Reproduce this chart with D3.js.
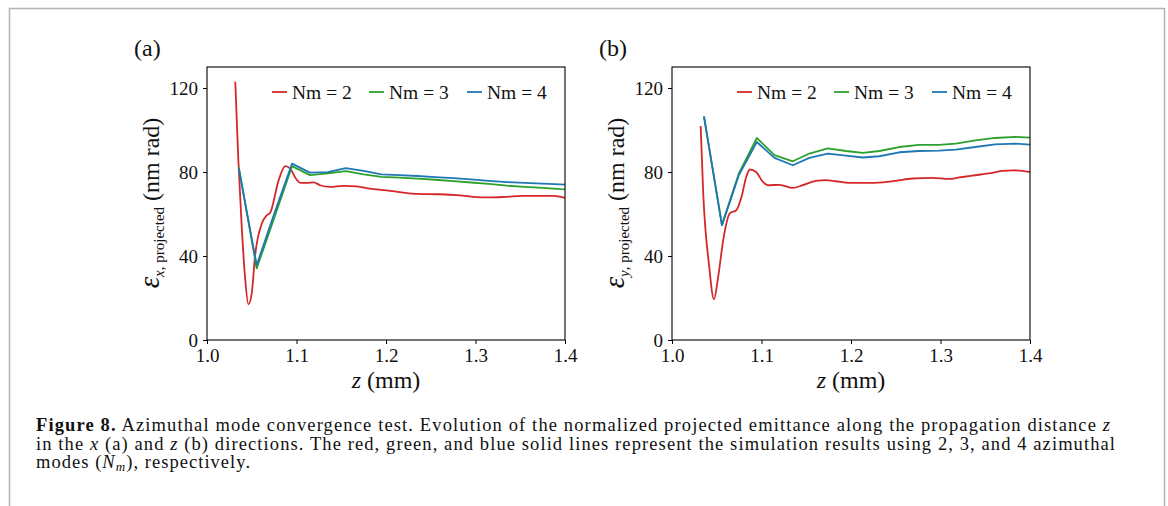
<!DOCTYPE html>
<html><head><meta charset="utf-8">
<script src="https://cdn.jsdelivr.net/npm/d3@7"></script>
<style>
html,body{margin:0;padding:0;background:#fff;}
svg{display:block;}
text{font-family:"Liberation Serif","Times New Roman",serif;fill:#111;}
</style></head>
<body>
<svg id="fig" width="1168" height="506"></svg>
<script>
// ---------- data ----------
const xTicks = [1.0, 1.1, 1.2, 1.3, 1.4];
const yTicks = [0, 40, 80, 120];
const seriesNames = ["Nm = 2", "Nm = 3", "Nm = 4"];
const seriesColors = ["#d62728", "#2ca02c", "#1f77b4"];

// panel (a): x direction
const zRedA = [1.0316,1.035,1.0388,1.0425,1.0462,1.050,1.0536,1.0613,1.0669,1.0706,1.080,1.0874,1.093,1.0993,1.1048,1.1115,1.119,1.1264,1.1375,1.152,1.167,1.182,1.2007,1.2193,1.234,1.260,1.279,1.2974,1.316,1.3346,1.353,1.3717,1.3866,1.4];
const redA  = [123,85.7,54,30,17,22.2,39.7,55.5,59.4,60.6,76,82.8,81.6,76.9,74.8,74.8,75.1,73.7,72.9,73.4,73.2,72.1,71.3,70.2,69.6,69.4,69,68.2,67.9,68.2,68.6,68.6,68.6,67.7];
const zGridA = [1.0355,1.0555,1.075,1.095,1.115,1.135,1.155,1.175,1.195,1.215,1.235,1.255,1.275,1.295,1.315,1.335,1.355,1.375,1.395,1.4];
const greenA = [82.4,34.1,58,82.8,78.5,79.3,80.4,78.9,77.7,77.3,76.8,76.3,75.7,75.0,74.3,73.5,72.9,72.4,71.8,71.7];
const blueA  = [81.6,35.7,60,84,79.7,79.9,81.8,80.5,78.9,78.5,78.1,77.6,77.1,76.5,75.8,75.2,74.8,74.5,74.1,74];

// panel (b): y direction
const zRedB = [1.032,1.0349,1.0416,1.0468,1.0516,1.0572,1.0646,1.072,1.0777,1.083,1.087,1.094,1.1015,1.107,1.120,1.135,1.146,1.161,1.172,1.183,1.198,1.2167,1.2353,1.250,1.2688,1.291,1.3097,1.321,1.3357,1.354,1.369,1.380,1.3918,1.4];
const redB  = [101.9,69.8,34.9,19.4,30.1,47.6,60.3,61.9,68.2,77.7,81.2,80,75.3,73.7,73.9,72.4,73.7,75.8,76.1,75.6,74.8,74.8,75.1,75.8,76.9,77.2,76.7,77.4,78.3,79.3,80.5,80.8,80.5,79.9];
const zGridB = [1.0357,1.0558,1.0747,1.0948,1.1145,1.135,1.1535,1.174,1.1944,1.213,1.2316,1.2539,1.276,1.2985,1.317,1.339,1.361,1.3836,1.4];
const greenB = [106.5,54.7,79.3,96.2,88,85.1,88.8,91.2,90,89.1,90,91.9,92.9,92.9,93.5,95.1,96.2,96.7,96.4];
const blueB  = [106.5,54.7,78.5,94.3,86.7,83.2,86.7,88.8,87.8,86.9,87.5,89.4,90,90.2,90.7,91.9,93.2,93.5,93];

const panels = [
  {label:"(a)", subVar:"x", left:207,
   series:[{z:zRedA,v:redA,smooth:true},{z:zGridA,v:greenA},{z:zGridA,v:blueA}]},
  {label:"(b)", subVar:"y", left:672,
   series:[{z:zRedB,v:redB,smooth:true},{z:zGridB,v:greenB},{z:zGridB,v:blueB}]}
];

// ---------- drawing ----------
const svg = d3.select("#fig");
svg.append("rect").attr("width",1168).attr("height",506).attr("fill","#fff");
// outer frame (page box)
svg.append("path").attr("d","M9.5,506 V8.5 H1164.5 V506")
  .attr("fill","none").attr("stroke","#b4b4b4").attr("stroke-width",1.5);

const PW = 358, PTOP = 67, PH = 273;
panels.forEach(p => {
  const g = svg.append("g").attr("transform",`translate(${p.left},${PTOP})`);
  const x = d3.scaleLinear().domain([1.0,1.4]).range([0,PW]);
  const y = d3.scaleLinear().domain([0,130]).range([PH,0]);

  const xa = g.append("g").attr("transform",`translate(0,${PH})`)
    .call(d3.axisBottom(x).tickValues(xTicks).tickFormat(d3.format(".1f")).tickSize(4).tickPadding(5));
  const ya = g.append("g")
    .call(d3.axisLeft(y).tickValues(yTicks).tickFormat(d3.format("d")).tickSize(4).tickPadding(5));
  [xa,ya].forEach(a=>{
    a.attr("font-family",null);
    a.select(".domain").remove();
    a.selectAll(".tick line").attr("stroke","#000").attr("stroke-width",1);
    a.selectAll(".tick text").style("font-family",'"Liberation Serif",serif').style("font-size","19px").attr("fill","#111");
  });

  const lines = g.append("g");
  p.series.forEach((s,i) => {
    const pts = s.z.map((z,k)=>[z,s.v[k]]);
    const gen = d3.line().x(d=>x(d[0])).y(d=>y(d[1]))
      .curve(s.smooth ? d3.curveMonotoneX : d3.curveLinear);
    lines.append("path").datum(pts).attr("d",gen)
      .attr("fill","none").attr("stroke",seriesColors[i]).attr("stroke-width",1.8)
      .attr("stroke-linejoin","round");
  });

  // frame
  g.append("rect").attr("x",0).attr("y",0).attr("width",PW).attr("height",PH)
    .attr("fill","none").attr("stroke","#000").attr("stroke-width",1.1);

  // legend
  const legX = [65, 162, 260];
  seriesNames.forEach((n,i)=>{
    const lg = g.append("g").attr("transform",`translate(${legX[i]},${25})`);
    lg.append("line").attr("x1",0).attr("x2",15).attr("y1",0).attr("y2",0)
      .attr("stroke",seriesColors[i]).attr("stroke-width",1.8);
    lg.append("text").attr("x",20).attr("y",6.5).style("font-size","19.5px").text(n);
  });

  // panel label
  svg.append("text").attr("x",p.left-73).attr("y",56).style("font-size","24px").text(p.label);

  // x label
  const xl = svg.append("text").attr("x",p.left+PW/2).attr("y",388)
    .attr("text-anchor","middle").style("font-size","24px");
  xl.append("tspan").style("font-style","italic").text("z");
  xl.append("tspan").text(" (mm)");

  // y label
  const yl = svg.append("text").attr("transform",`translate(${p.left-48},${203}) rotate(-90)`)
    .attr("text-anchor","middle").style("font-size","24px");
  yl.append("tspan").style("font-style","italic").style("font-size","29px").text("ε");
  yl.append("tspan").attr("dy",5).style("font-size","15px").style("font-style","italic").text(p.subVar);
  yl.append("tspan").style("font-size","15px").text(", projected");
  yl.append("tspan").attr("dy",-5).text(" (nm rad)");
});

// caption
const cap = svg.append("g").style("font-size","18.5px");
const l1 = cap.append("text").attr("x",36).attr("y",431).attr("textLength",1074).attr("lengthAdjust","spacing");
l1.append("tspan").style("font-weight","bold").text("Figure 8.");
l1.append("tspan").text(" Azimuthal mode convergence test. Evolution of the normalized projected emittance along the propagation distance ");
l1.append("tspan").style("font-style","italic").text("z");
const l2 = cap.append("text").attr("x",36).attr("y",449.5).attr("textLength",1079).attr("lengthAdjust","spacing");
l2.append("tspan").text("in the ");
l2.append("tspan").style("font-style","italic").text("x");
l2.append("tspan").text(" (a) and ");
l2.append("tspan").style("font-style","italic").text("z");
l2.append("tspan").text(" (b) directions. The red, green, and blue solid lines represent the simulation results using 2, 3, and 4 azimuthal");
const l3 = cap.append("text").attr("x",36).attr("y",468).attr("textLength",214).attr("lengthAdjust","spacing");
l3.append("tspan").text("modes (");
l3.append("tspan").style("font-style","italic").text("N");
l3.append("tspan").style("font-style","italic").style("font-size","13px").attr("dy",3).text("m");
l3.append("tspan").attr("dy",-3).text("), respectively.");
</script>
</body></html>
